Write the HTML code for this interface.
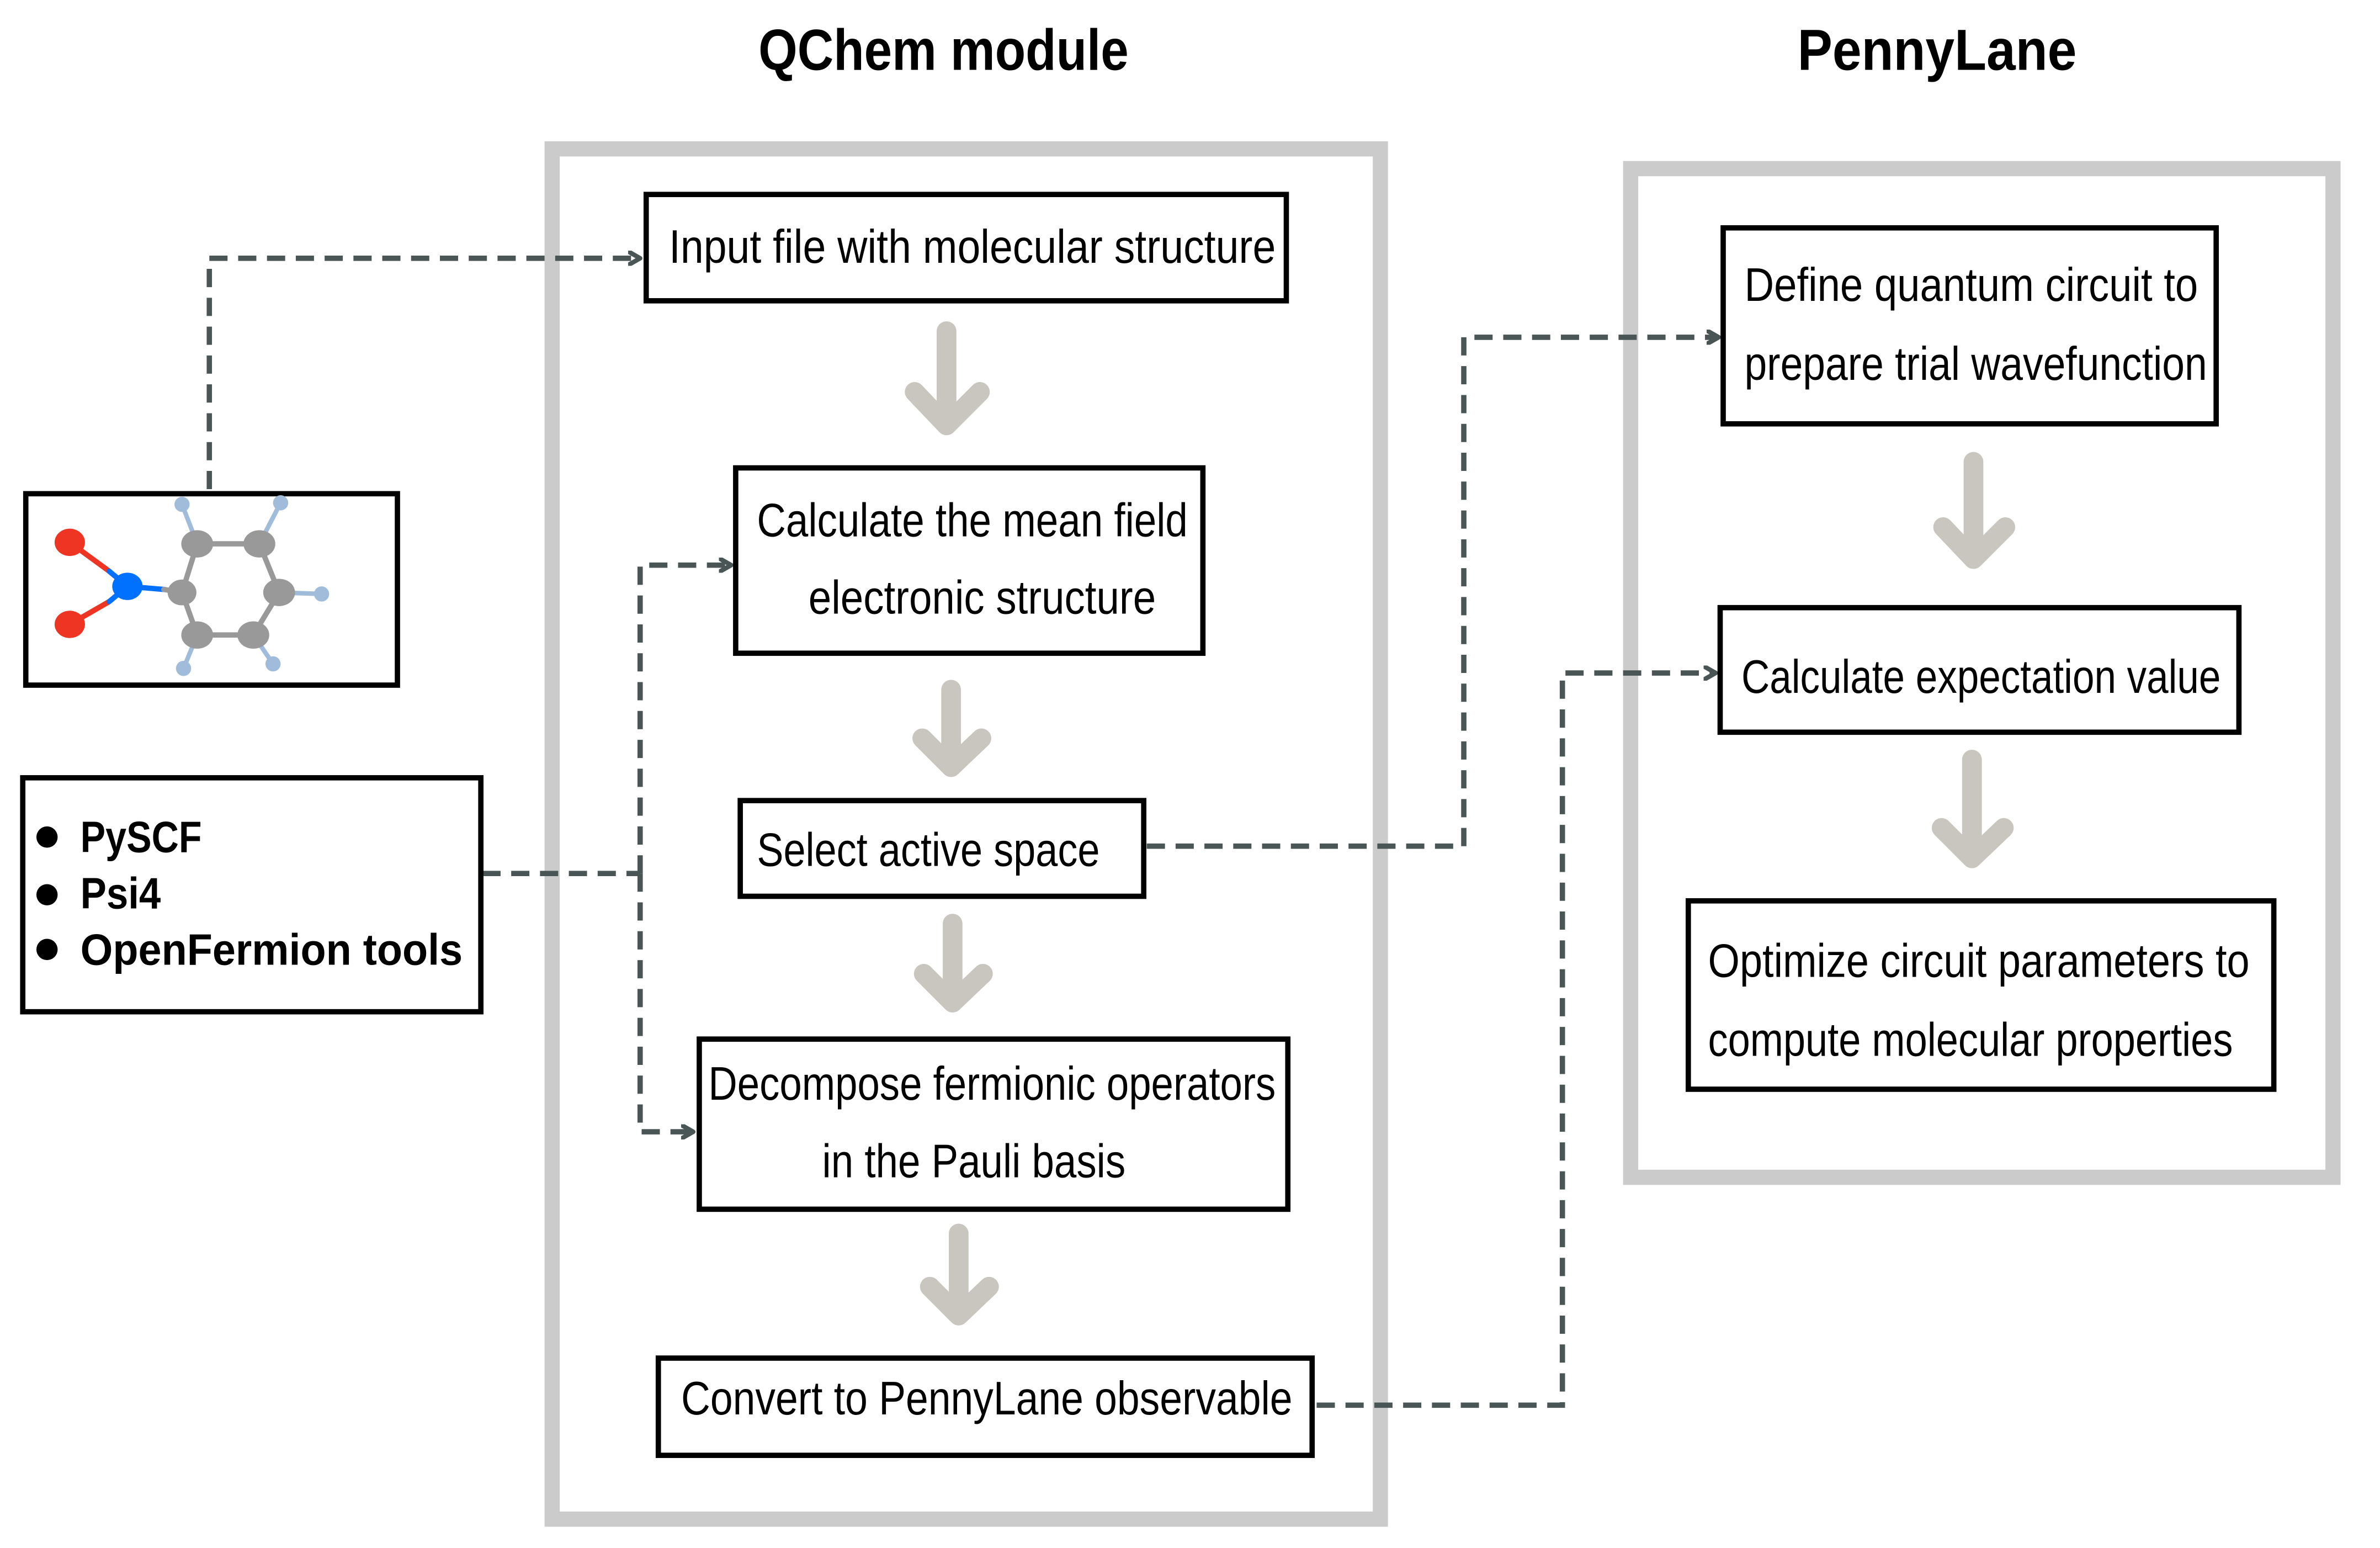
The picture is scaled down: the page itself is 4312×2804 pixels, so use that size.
<!DOCTYPE html>
<html><head><meta charset="utf-8">
<style>
html,body{margin:0;padding:0;background:#fff;}
svg{display:block;}
</style></head>
<body>
<svg width="4312" height="2804" viewBox="0 0 1569 1019" preserveAspectRatio="none" xmlns="http://www.w3.org/2000/svg">
<defs>
<marker id="ah" markerWidth="10" markerHeight="10" refX="8" refY="5" orient="auto" markerUnits="userSpaceOnUse">
<path d="M1,1 L8,5 L1,9" fill="none" stroke="#4a5555" stroke-width="3" stroke-linecap="round" stroke-linejoin="round"/>
</marker>
</defs>
<rect width="1569" height="1019" fill="#fff"/>
<g font-family="Liberation Sans, sans-serif" font-weight="bold" font-size="38" fill="#000" text-anchor="middle">
<text x="622" y="46" textLength="244" lengthAdjust="spacingAndGlyphs">QChem module</text>
<text x="1277" y="46" textLength="184" lengthAdjust="spacingAndGlyphs">PennyLane</text>
</g>
<rect x="364" y="98" width="546" height="902" fill="none" stroke="#cbcbcb" stroke-width="10"/>
<rect x="1075" y="111" width="463" height="664" fill="none" stroke="#cbcbcb" stroke-width="10"/>

<g stroke="#c9c6c0" stroke-width="13" stroke-linecap="round" stroke-linejoin="round" fill="none">
<path d="M624,218 V280 M603,258 L624,280 L646,258"/>
<path d="M627,454 V505 M608,486 L627,505 L647,486"/>
<path d="M628,608 V660 M609,641 L628,660 L648,641"/>
<path d="M632,812 V866 M613,847 L632,866 L652,847"/>
<path d="M1301,304 V368 M1281,347 L1301,368 L1322,347"/>
<path d="M1300,500 V565 M1280,545 L1300,565 L1321,545"/>
</g>

<g stroke="#4a5555" stroke-width="3.5" fill="none" stroke-dasharray="12,7">
<path d="M138,322 V170 H422" marker-end="url(#ah)"/>
<path d="M318,575 H422 M422,575 V372 H482" marker-end="url(#ah)"/>
<path d="M422,575 V745 H457" marker-end="url(#ah)"/>
<path d="M756,557 H965 V222 H1133" marker-end="url(#ah)"/>
<path d="M868,925 H1030 V443 H1131" marker-end="url(#ah)"/>
</g>

<g fill="#fff" stroke="#000" stroke-width="3.5">
<rect x="426" y="128" width="422" height="70"/>
<rect x="485" y="308" width="308" height="122"/>
<rect x="488" y="527" width="266" height="63"/>
<rect x="461" y="684" width="388" height="112"/>
<rect x="434" y="894" width="431" height="64"/>
<rect x="17" y="325" width="245" height="126"/>
<rect x="15" y="512" width="302" height="154"/>
<rect x="1136" y="150" width="325" height="129"/>
<rect x="1134" y="400" width="342" height="82"/>
<rect x="1113" y="593" width="386" height="124"/>
</g>

<g font-family="Liberation Sans Narrow, Liberation Sans, sans-serif" font-size="31" fill="#000">
<text x="441" y="173" textLength="400" lengthAdjust="spacingAndGlyphs">Input file with molecular structure</text>
<text x="499" y="353" textLength="284" lengthAdjust="spacingAndGlyphs">Calculate the mean field</text>
<text x="533" y="404" textLength="229" lengthAdjust="spacingAndGlyphs">electronic structure</text>
<text x="499" y="570" textLength="226" lengthAdjust="spacingAndGlyphs">Select active space</text>
<text x="467" y="724" textLength="374" lengthAdjust="spacingAndGlyphs">Decompose fermionic operators</text>
<text x="542" y="775" textLength="200" lengthAdjust="spacingAndGlyphs">in the Pauli basis</text>
<text x="449" y="931" textLength="403" lengthAdjust="spacingAndGlyphs">Convert to PennyLane observable</text>
<text x="1150" y="198" textLength="299" lengthAdjust="spacingAndGlyphs">Define quantum circuit to</text>
<text x="1150" y="250" textLength="305" lengthAdjust="spacingAndGlyphs">prepare trial wavefunction</text>
<text x="1148" y="456" textLength="316" lengthAdjust="spacingAndGlyphs">Calculate expectation value</text>
<text x="1126" y="643" textLength="357" lengthAdjust="spacingAndGlyphs">Optimize circuit parameters to</text>
<text x="1126" y="695" textLength="346" lengthAdjust="spacingAndGlyphs">compute molecular properties</text>
</g>

<g font-family="Liberation Sans, sans-serif" font-weight="bold" font-size="29" fill="#000">
<circle cx="31" cy="551" r="7"/>
<circle cx="31" cy="589" r="7"/>
<circle cx="31" cy="625" r="7"/>
<text x="53" y="561" textLength="80" lengthAdjust="spacingAndGlyphs">PySCF</text>
<text x="53" y="598" textLength="53" lengthAdjust="spacingAndGlyphs">Psi4</text>
<text x="53" y="635" textLength="252" lengthAdjust="spacingAndGlyphs">OpenFermion tools</text>
</g>

<g stroke-linecap="round" stroke-width="3.5">
<line x1="46" y1="357" x2="72" y2="376" stroke="#ee3524"/>
<line x1="72" y1="376" x2="84" y2="386" stroke="#0070ff"/>
<line x1="46" y1="411" x2="72" y2="396" stroke="#ee3524"/>
<line x1="72" y1="396" x2="84" y2="386" stroke="#0070ff"/>
<line x1="84" y1="386" x2="108" y2="388" stroke="#0070ff"/>
<line x1="108" y1="388" x2="120" y2="390" stroke="#999"/>
<g stroke="#999">
<line x1="120" y1="390" x2="130" y2="358"/>
<line x1="130" y1="358" x2="171" y2="358"/>
<line x1="171" y1="358" x2="184" y2="390"/>
<line x1="184" y1="390" x2="167" y2="418"/>
<line x1="167" y1="418" x2="130" y2="418"/>
<line x1="130" y1="418" x2="120" y2="390"/>
</g>
<g stroke="#a0bcda" stroke-width="3">
<line x1="130" y1="358" x2="120" y2="332"/>
<line x1="171" y1="358" x2="185" y2="331"/>
<line x1="184" y1="390" x2="212" y2="391"/>
<line x1="130" y1="418" x2="121" y2="440"/>
<line x1="167" y1="418" x2="180" y2="437"/>
</g>
</g>
<g fill="#ee3524">
<ellipse cx="46" cy="357" rx="10" ry="9"/>
<ellipse cx="46" cy="411" rx="10" ry="9"/>
</g>
<ellipse cx="84" cy="386" rx="10" ry="9" fill="#0070ff"/>
<g fill="#999">
<ellipse cx="130" cy="358" rx="10.5" ry="9"/>
<ellipse cx="171" cy="358" rx="10.5" ry="9"/>
<ellipse cx="184" cy="390" rx="10.5" ry="9"/>
<ellipse cx="167" cy="418" rx="10.5" ry="9"/>
<ellipse cx="130" cy="418" rx="10.5" ry="9"/>
<ellipse cx="120" cy="390" rx="9.5" ry="8.5"/>
</g>
<g fill="#a0bcda">
<circle cx="120" cy="332" r="5"/>
<circle cx="185" cy="331" r="5"/>
<circle cx="212" cy="391" r="5"/>
<circle cx="121" cy="440" r="5"/>
<circle cx="180" cy="437" r="5"/>
</g>
</svg>
</body></html>
